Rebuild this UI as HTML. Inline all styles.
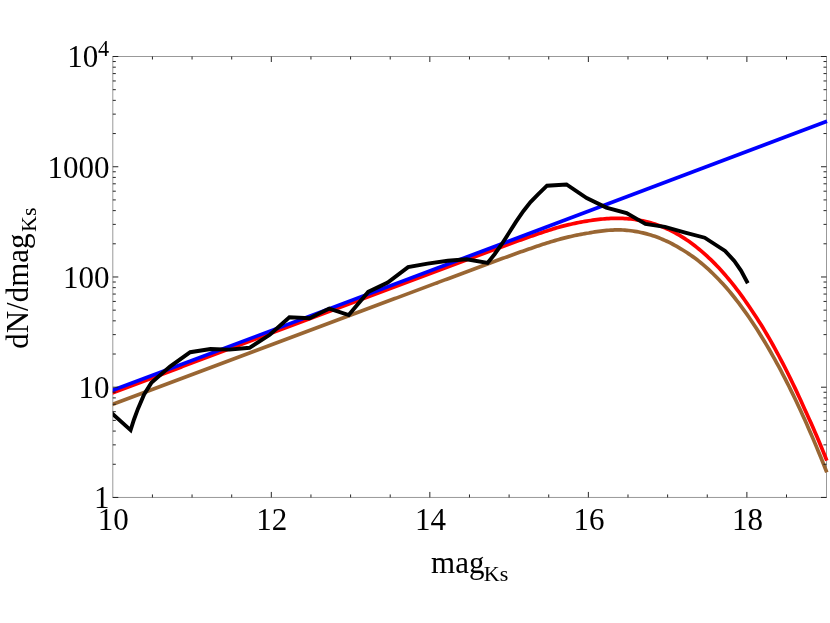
<!DOCTYPE html>
<html><head><meta charset="utf-8"><title>plot</title>
<style>
html,body{margin:0;padding:0;background:#fff;}
body{width:830px;height:623px;overflow:hidden;font-family:"Liberation Serif",serif;}
svg{display:block;will-change:transform;}
text{font-family:"Liberation Serif",serif;fill:#000;}
</style></head><body>
<svg width="830" height="623" viewBox="0 0 830 623">
<rect width="830" height="623" fill="#fff"/>

<defs><clipPath id="cp"><rect x="112.80" y="51.5" width="727.20" height="450.95"/></clipPath></defs>
<rect x="112.8" y="56.5" width="713.70" height="440.95" fill="none" stroke="#999" stroke-width="1"/>
<g fill="none" stroke-linejoin="miter" stroke-linecap="butt" clip-path="url(#cp)">
<path d="M110.80,393.46 L112.80,392.71 L114.80,391.96 L116.80,391.21 L118.80,390.46 L120.80,389.71 L122.80,388.95 L124.80,388.20 L126.80,387.45 L128.80,386.70 L130.80,385.95 L132.80,385.19 L134.80,384.44 L136.80,383.69 L138.80,382.94 L140.80,382.19 L142.80,381.43 L144.80,380.68 L146.80,379.93 L148.80,379.18 L150.80,378.43 L152.80,377.67 L154.80,376.92 L156.80,376.17 L158.80,375.42 L160.80,374.67 L162.80,373.91 L164.80,373.16 L166.80,372.41 L168.80,371.66 L170.80,370.91 L172.80,370.15 L174.80,369.40 L176.80,368.65 L178.80,367.90 L180.80,367.15 L182.80,366.39 L184.80,365.64 L186.80,364.89 L188.80,364.14 L190.80,363.39 L192.80,362.63 L194.80,361.88 L196.80,361.13 L198.80,360.38 L200.80,359.63 L202.80,358.87 L204.80,358.12 L206.80,357.37 L208.80,356.62 L210.80,355.86 L212.80,355.11 L214.80,354.36 L216.80,353.61 L218.80,352.86 L220.80,352.10 L222.80,351.35 L224.80,350.60 L226.80,349.85 L228.80,349.10 L230.80,348.34 L232.80,347.59 L234.80,346.84 L236.80,346.09 L238.80,345.34 L240.80,344.58 L242.80,343.83 L244.80,343.08 L246.80,342.33 L248.80,341.58 L250.80,340.82 L252.80,340.07 L254.80,339.32 L256.80,338.57 L258.80,337.82 L260.80,337.06 L262.80,336.31 L264.80,335.56 L266.80,334.81 L268.80,334.06 L270.80,333.30 L272.80,332.55 L274.80,331.80 L276.80,331.05 L278.80,330.30 L280.80,329.54 L282.80,328.79 L284.80,328.04 L286.80,327.29 L288.80,326.54 L290.80,325.78 L292.80,325.03 L294.80,324.28 L296.80,323.53 L298.80,322.78 L300.80,322.02 L302.80,321.27 L304.80,320.53 L306.80,319.78 L308.80,319.03 L310.80,318.28 L312.80,317.53 L314.80,316.78 L316.80,316.03 L318.80,315.28 L320.80,314.53 L322.80,313.78 L324.80,313.03 L326.80,312.28 L328.80,311.53 L330.80,310.78 L332.80,310.03 L334.80,309.28 L336.80,308.53 L338.80,307.78 L340.80,307.03 L342.80,306.28 L344.80,305.53 L346.80,304.78 L348.80,304.03 L350.80,303.28 L352.80,302.53 L354.80,301.78 L356.80,301.03 L358.80,300.28 L360.80,299.54 L362.80,298.79 L364.80,298.04 L366.80,297.29 L368.80,296.54 L370.80,295.79 L372.80,295.04 L374.80,294.29 L376.80,293.54 L378.80,292.79 L380.80,292.04 L382.80,291.29 L384.80,290.54 L386.80,289.79 L388.80,289.04 L390.80,288.29 L392.80,287.54 L394.80,286.79 L396.80,286.04 L398.80,285.29 L400.80,284.54 L402.80,283.79 L404.80,283.04 L406.80,282.29 L408.80,281.54 L410.80,280.79 L412.80,280.04 L414.80,279.30 L416.80,278.55 L418.80,277.80 L420.80,277.05 L422.80,276.30 L424.80,275.55 L426.80,274.80 L428.80,274.05 L430.80,273.30 L432.80,272.55 L434.80,271.80 L436.80,271.05 L438.80,270.30 L440.80,269.55 L442.80,268.80 L444.80,268.05 L446.80,267.30 L448.80,266.55 L450.80,265.81 L452.80,265.06 L454.80,264.31 L456.80,263.56 L458.80,262.81 L460.80,262.06 L462.80,261.31 L464.80,260.57 L466.80,259.82 L468.80,259.07 L470.80,258.32 L472.80,257.57 L474.80,256.83 L476.80,256.08 L478.80,255.34 L480.80,254.59 L482.80,253.84 L484.80,253.10 L486.80,252.36 L488.80,251.61 L490.80,250.87 L492.80,250.13 L494.80,249.39 L496.80,248.65 L498.80,247.91 L500.80,247.17 L502.80,246.43 L504.80,245.70 L506.80,244.96 L508.80,244.23 L510.80,243.50 L512.80,242.78 L514.80,242.05 L516.80,241.33 L518.80,240.61 L520.80,239.89 L522.80,239.17 L524.80,238.46 L526.80,237.75 L528.80,237.05 L530.80,236.35 L532.80,235.65 L534.80,234.96 L536.80,234.27 L538.80,233.59 L540.80,232.92 L542.80,232.25 L544.80,231.58 L546.80,230.93 L548.80,230.28 L550.80,229.64 L552.80,229.00 L554.80,228.38 L556.80,227.76 L558.80,227.16 L560.80,226.60 L562.80,226.09 L564.80,225.60 L566.80,225.12 L568.80,224.65 L570.80,224.20 L572.80,223.76 L574.80,223.33 L576.80,222.92 L578.80,222.52 L580.80,222.14 L582.80,221.77 L584.80,221.42 L586.80,221.09 L588.80,220.78 L590.80,220.46 L592.80,220.16 L594.80,219.88 L596.80,219.62 L598.80,219.38 L600.80,219.16 L602.80,218.97 L604.80,218.80 L606.80,218.65 L608.80,218.53 L610.80,218.44 L612.80,218.37 L614.80,218.34 L616.80,218.32 L618.80,218.34 L620.80,218.38 L622.80,218.45 L624.80,218.55 L626.80,218.67 L628.80,218.83 L630.80,219.02 L632.80,219.25 L634.80,219.51 L636.80,219.80 L638.80,220.13 L640.80,220.49 L642.80,220.90 L644.80,221.33 L646.80,221.81 L648.80,222.32 L650.80,222.87 L652.80,223.46 L654.80,224.09 L656.80,224.76 L658.80,225.47 L660.80,226.22 L662.80,227.02 L664.80,227.85 L666.80,228.73 L668.80,229.65 L670.80,230.61 L672.80,231.62 L674.80,232.67 L676.80,233.77 L678.80,234.91 L680.80,236.10 L682.80,237.34 L684.80,238.63 L686.80,239.96 L688.80,241.34 L690.80,242.77 L692.80,244.24 L694.80,245.77 L696.80,247.34 L698.80,248.96 L700.80,250.63 L702.80,252.34 L704.80,254.10 L706.80,255.91 L708.80,257.78 L710.80,259.69 L712.80,261.65 L714.80,263.67 L716.80,265.74 L718.80,267.85 L720.80,270.02 L722.80,272.25 L724.80,274.52 L726.80,276.85 L728.80,279.23 L730.80,281.66 L732.80,284.16 L734.80,286.70 L736.80,289.30 L738.80,291.96 L740.80,294.67 L742.80,297.43 L744.80,300.25 L746.80,303.12 L748.80,306.04 L750.80,308.99 L752.80,311.95 L754.80,314.96 L756.80,318.03 L758.80,321.15 L760.80,324.33 L762.80,327.56 L764.80,330.85 L766.80,334.24 L768.80,337.68 L770.80,341.18 L772.80,344.74 L774.80,348.35 L776.80,352.02 L778.80,355.75 L780.80,359.53 L782.80,363.37 L784.80,367.27 L786.80,371.23 L788.80,375.24 L790.80,379.31 L792.80,383.44 L794.80,387.63 L796.80,391.88 L798.80,396.18 L800.80,400.54 L802.80,404.96 L804.80,409.44 L806.80,413.78 L808.80,418.16 L810.80,422.60 L812.80,427.10 L814.80,431.65 L816.80,436.27 L818.80,440.97 L820.80,445.78 L822.80,450.64 L824.80,455.57 L826.80,460.57" stroke="#ff0000" stroke-width="3.7"/>
<path d="M110.80,405.04 L112.80,404.30 L114.80,403.55 L116.80,402.80 L118.80,402.05 L120.80,401.30 L122.80,400.55 L124.80,399.80 L126.80,399.05 L128.80,398.30 L130.80,397.55 L132.80,396.80 L134.80,396.05 L136.80,395.30 L138.80,394.55 L140.80,393.80 L142.80,393.05 L144.80,392.30 L146.80,391.55 L148.80,390.80 L150.80,390.05 L152.80,389.30 L154.80,388.55 L156.80,387.80 L158.80,387.05 L160.80,386.30 L162.80,385.55 L164.80,384.80 L166.80,384.05 L168.80,383.30 L170.80,382.55 L172.80,381.80 L174.80,381.05 L176.80,380.30 L178.80,379.55 L180.80,378.80 L182.80,378.05 L184.80,377.30 L186.80,376.55 L188.80,375.80 L190.80,375.04 L192.80,374.29 L194.80,373.54 L196.80,372.79 L198.80,372.04 L200.80,371.29 L202.80,370.54 L204.80,369.79 L206.80,369.04 L208.80,368.29 L210.80,367.54 L212.80,366.79 L214.80,366.04 L216.80,365.29 L218.80,364.54 L220.80,363.79 L222.80,363.04 L224.80,362.29 L226.80,361.54 L228.80,360.79 L230.80,360.04 L232.80,359.29 L234.80,358.54 L236.80,357.79 L238.80,357.04 L240.80,356.29 L242.80,355.54 L244.80,354.79 L246.80,354.04 L248.80,353.29 L250.80,352.54 L252.80,351.79 L254.80,351.04 L256.80,350.29 L258.80,349.54 L260.80,348.79 L262.80,348.04 L264.80,347.29 L266.80,346.54 L268.80,345.79 L270.80,345.04 L272.80,344.29 L274.80,343.54 L276.80,342.79 L278.80,342.04 L280.80,341.29 L282.80,340.54 L284.80,339.79 L286.80,339.04 L288.80,338.29 L290.80,337.54 L292.80,336.79 L294.80,336.04 L296.80,335.29 L298.80,334.54 L300.80,333.79 L302.80,333.04 L304.80,332.29 L306.80,331.54 L308.80,330.80 L310.80,330.05 L312.80,329.30 L314.80,328.55 L316.80,327.80 L318.80,327.05 L320.80,326.30 L322.80,325.55 L324.80,324.81 L326.80,324.06 L328.80,323.31 L330.80,322.56 L332.80,321.81 L334.80,321.06 L336.80,320.31 L338.80,319.57 L340.80,318.82 L342.80,318.07 L344.80,317.32 L346.80,316.57 L348.80,315.82 L350.80,315.07 L352.80,314.33 L354.80,313.58 L356.80,312.83 L358.80,312.08 L360.80,311.33 L362.80,310.58 L364.80,309.83 L366.80,309.09 L368.80,308.34 L370.80,307.59 L372.80,306.84 L374.80,306.09 L376.80,305.34 L378.80,304.59 L380.80,303.85 L382.80,303.10 L384.80,302.35 L386.80,301.60 L388.80,300.85 L390.80,300.10 L392.80,299.35 L394.80,298.61 L396.80,297.86 L398.80,297.11 L400.80,296.36 L402.80,295.61 L404.80,294.86 L406.80,294.11 L408.80,293.36 L410.80,292.62 L412.80,291.87 L414.80,291.12 L416.80,290.37 L418.80,289.62 L420.80,288.87 L422.80,288.13 L424.80,287.38 L426.80,286.63 L428.80,285.88 L430.80,285.13 L432.80,284.38 L434.80,283.63 L436.80,282.89 L438.80,282.14 L440.80,281.39 L442.80,280.64 L444.80,279.89 L446.80,279.15 L448.80,278.40 L450.80,277.65 L452.80,276.90 L454.80,276.16 L456.80,275.41 L458.80,274.66 L460.80,273.91 L462.80,273.17 L464.80,272.42 L466.80,271.67 L468.80,270.93 L470.80,270.18 L472.80,269.44 L474.80,268.69 L476.80,267.95 L478.80,267.21 L480.80,266.46 L482.80,265.72 L484.80,264.98 L486.80,264.24 L488.80,263.50 L490.80,262.76 L492.80,262.02 L494.80,261.28 L496.80,260.55 L498.80,259.81 L500.80,259.08 L502.80,258.35 L504.80,257.62 L506.80,256.89 L508.80,256.16 L510.80,255.44 L512.80,254.72 L514.80,254.00 L516.80,253.28 L518.80,252.57 L520.80,251.86 L522.80,251.16 L524.80,250.46 L526.80,249.76 L528.80,249.06 L530.80,248.38 L532.80,247.69 L534.80,247.01 L536.80,246.34 L538.80,245.67 L540.80,245.01 L542.80,244.36 L544.80,243.71 L546.80,243.08 L548.80,242.44 L550.80,241.82 L552.80,241.21 L554.80,240.61 L556.80,240.01 L558.80,239.43 L560.80,238.88 L562.80,238.36 L564.80,237.86 L566.80,237.37 L568.80,236.89 L570.80,236.43 L572.80,235.98 L574.80,235.54 L576.80,235.12 L578.80,234.72 L580.80,234.34 L582.80,233.97 L584.80,233.62 L586.80,233.29 L588.80,232.98 L590.80,232.61 L592.80,232.26 L594.80,231.93 L596.80,231.62 L598.80,231.34 L600.80,231.08 L602.80,230.84 L604.80,230.62 L606.80,230.44 L608.80,230.27 L610.80,230.14 L612.80,230.03 L614.80,229.95 L616.80,229.89 L618.80,229.87 L620.80,229.91 L622.80,230.02 L624.80,230.15 L626.80,230.33 L628.80,230.53 L630.80,230.77 L632.80,231.03 L634.80,231.34 L636.80,231.68 L638.80,232.05 L640.80,232.46 L642.80,232.90 L644.80,233.38 L646.80,233.90 L648.80,234.46 L650.80,235.05 L652.80,235.68 L654.80,236.35 L656.80,237.07 L658.80,237.82 L660.80,238.61 L662.80,239.44 L664.80,240.32 L666.80,241.24 L668.80,242.19 L670.80,243.20 L672.80,244.24 L674.80,245.33 L676.80,246.46 L678.80,247.64 L680.80,248.83 L682.80,250.01 L684.80,251.24 L686.80,252.51 L688.80,253.84 L690.80,255.20 L692.80,256.62 L694.80,258.08 L696.80,259.59 L698.80,261.14 L700.80,262.75 L702.80,264.42 L704.80,266.14 L706.80,267.91 L708.80,269.72 L710.80,271.59 L712.80,273.50 L714.80,275.47 L716.80,277.48 L718.80,279.55 L720.80,281.66 L722.80,283.83 L724.80,286.05 L726.80,288.32 L728.80,290.64 L730.80,293.02 L732.80,295.48 L734.80,297.99 L736.80,300.55 L738.80,303.17 L740.80,305.83 L742.80,308.55 L744.80,311.33 L746.80,314.15 L748.80,317.03 L750.80,319.96 L752.80,322.95 L754.80,325.99 L756.80,329.08 L758.80,332.23 L760.80,335.44 L762.80,338.69 L764.80,342.00 L766.80,345.37 L768.80,348.79 L770.80,352.27 L772.80,355.80 L774.80,359.38 L776.80,363.02 L778.80,366.72 L780.80,370.47 L782.80,374.28 L784.80,378.14 L786.80,382.06 L788.80,386.04 L790.80,390.07 L792.80,394.16 L794.80,398.30 L796.80,402.50 L798.80,406.76 L800.80,411.07 L802.80,415.44 L804.80,419.86 L806.80,424.35 L808.80,428.89 L810.80,433.48 L812.80,438.14 L814.80,442.85 L816.80,447.61 L818.80,452.44 L820.80,457.32 L822.80,462.26 L824.80,467.26 L826.80,472.31" stroke="#996633" stroke-width="3.7"/>
<path d="M109.80,391.43 L827.00,121.33" stroke="#0000ff" stroke-width="3.7"/>
<path d="M109.5,411.0 L130.6,430.1 L134.0,419.5 L137.9,408.9 L144.1,394.4 L151.3,382.9 L170.0,366.6 L190.2,352.2 L210.5,349.0 L229.3,349.6 L249.5,347.8 L269.8,334.8 L289.4,317.2 L309.6,318.2 L329.2,308.6 L348.7,315.1 L368.2,291.9 L387.7,282.5 L408.1,267.2 L427.6,263.6 L447.8,260.7 L466.6,259.3 L487.6,262.9 L494.6,254.2 L501.7,244.2 L508.9,233.0 L516.1,221.6 L523.3,211.2 L530.5,202.1 L537.8,194.6 L547.0,185.7 L566.5,184.5 L586.7,198.0 L606.3,207.6 L626.6,213.1 L645.4,224.0 L664.9,226.9 L685.2,232.6 L704.7,237.7 L725.1,250.9 L734.3,261.0 L741.0,270.6 L747.8,283.2" stroke="#000" stroke-width="3.9"/>
</g>
<path d="M152.43,497.45 v-3.0 M152.43,56.5 v3.0 M192.06,497.45 v-3.0 M192.06,56.5 v3.0 M231.69,497.45 v-3.0 M231.69,56.5 v3.0 M271.32,497.45 v-5.5 M271.32,56.5 v5.5 M310.95,497.45 v-3.0 M310.95,56.5 v3.0 M350.58,497.45 v-3.0 M350.58,56.5 v3.0 M390.21,497.45 v-3.0 M390.21,56.5 v3.0 M429.84,497.45 v-5.5 M429.84,56.5 v5.5 M469.47,497.45 v-3.0 M469.47,56.5 v3.0 M509.10,497.45 v-3.0 M509.10,56.5 v3.0 M548.73,497.45 v-3.0 M548.73,56.5 v3.0 M588.36,497.45 v-5.5 M588.36,56.5 v5.5 M627.99,497.45 v-3.0 M627.99,56.5 v3.0 M667.62,497.45 v-3.0 M667.62,56.5 v3.0 M707.25,497.45 v-3.0 M707.25,56.5 v3.0 M746.88,497.45 v-5.5 M746.88,56.5 v5.5 M786.51,497.45 v-3.0 M786.51,56.5 v3.0 M112.8,497.45 h5.5 M826.5,497.45 h-5.5 M112.8,464.27 h3.0 M826.5,464.27 h-3.0 M112.8,444.85 h3.0 M826.5,444.85 h-3.0 M112.8,431.08 h3.0 M826.5,431.08 h-3.0 M112.8,420.40 h3.0 M826.5,420.40 h-3.0 M112.8,411.67 h3.0 M826.5,411.67 h-3.0 M112.8,404.29 h3.0 M826.5,404.29 h-3.0 M112.8,397.90 h3.0 M826.5,397.90 h-3.0 M112.8,392.26 h3.0 M826.5,392.26 h-3.0 M112.8,387.21 h5.5 M826.5,387.21 h-5.5 M112.8,354.03 h3.0 M826.5,354.03 h-3.0 M112.8,334.62 h3.0 M826.5,334.62 h-3.0 M112.8,320.84 h3.0 M826.5,320.84 h-3.0 M112.8,310.16 h3.0 M826.5,310.16 h-3.0 M112.8,301.43 h3.0 M826.5,301.43 h-3.0 M112.8,294.05 h3.0 M826.5,294.05 h-3.0 M112.8,287.66 h3.0 M826.5,287.66 h-3.0 M112.8,282.02 h3.0 M826.5,282.02 h-3.0 M112.8,276.98 h5.5 M826.5,276.98 h-5.5 M112.8,243.79 h3.0 M826.5,243.79 h-3.0 M112.8,224.38 h3.0 M826.5,224.38 h-3.0 M112.8,210.61 h3.0 M826.5,210.61 h-3.0 M112.8,199.92 h3.0 M826.5,199.92 h-3.0 M112.8,191.19 h3.0 M826.5,191.19 h-3.0 M112.8,183.81 h3.0 M826.5,183.81 h-3.0 M112.8,177.42 h3.0 M826.5,177.42 h-3.0 M112.8,171.78 h3.0 M826.5,171.78 h-3.0 M112.8,166.74 h5.5 M826.5,166.74 h-5.5 M112.8,133.55 h3.0 M826.5,133.55 h-3.0 M112.8,114.14 h3.0 M826.5,114.14 h-3.0 M112.8,100.37 h3.0 M826.5,100.37 h-3.0 M112.8,89.68 h3.0 M826.5,89.68 h-3.0 M112.8,80.96 h3.0 M826.5,80.96 h-3.0 M112.8,73.58 h3.0 M826.5,73.58 h-3.0 M112.8,67.18 h3.0 M826.5,67.18 h-3.0 M112.8,61.54 h3.0 M826.5,61.54 h-3.0 M112.8,56.50 h5.5 M826.5,56.50 h-5.5" fill="none" stroke="#1a1a1a" stroke-width="0.95"/>
<text x="109.50" y="508.25" font-size="31" text-anchor="end">1</text>
<text x="109.50" y="398.01" font-size="31" text-anchor="end">10</text>
<text x="109.50" y="287.78" font-size="31" text-anchor="end">100</text>
<text x="109.50" y="177.54" font-size="31" text-anchor="end">1000</text>
<text x="109.10" y="66.90" font-size="31" text-anchor="end">10<tspan font-size="22.2" dy="-11.3" dx="-0.3">4</tspan></text>
<text x="113.20" y="530.3" font-size="31" text-anchor="middle">10</text>
<text x="271.80" y="530.3" font-size="31" text-anchor="middle">12</text>
<text x="430.40" y="530.3" font-size="31" text-anchor="middle">14</text>
<text x="589.00" y="530.3" font-size="31" text-anchor="middle">16</text>
<text x="747.60" y="530.3" font-size="31" text-anchor="middle">18</text>
<text x="469.65" y="573.1" font-size="31" text-anchor="middle">mag<tspan font-size="22" dy="7.6" dx="-0.7">Ks</tspan></text>
<text transform="translate(28.3,278.12) rotate(-90)" font-size="31" text-anchor="middle">dN/dmag<tspan font-size="22" dy="8" dx="1.5">Ks</tspan></text>
</svg></body></html>
